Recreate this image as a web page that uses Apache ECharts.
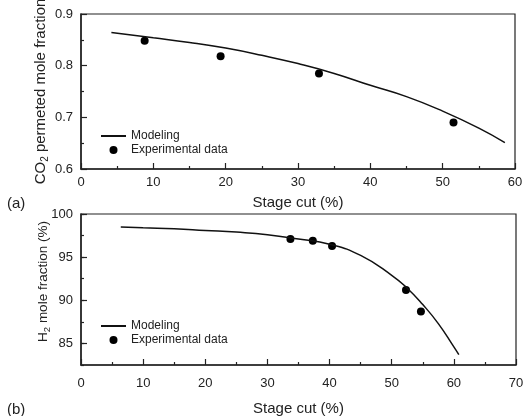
<!DOCTYPE html>
<html>
<head>
<meta charset="utf-8">
<script src="https://cdn.jsdelivr.net/npm/echarts@6/dist/echarts.min.js"></script>
<style>html,body{margin:0;padding:0;background:#fff;}#c{width:527px;height:416px;}</style>
</head>
<body>
<div id="c"></div>
<script>
// Panel (a): CO2 permeated mole fraction vs stage cut
var modelA_x = [4.2, 10, 15, 20, 25, 30, 35, 40, 45, 50, 55, 58.6];
var modelA_y = [0.864, 0.854, 0.845, 0.834, 0.820, 0.804, 0.785, 0.762, 0.740, 0.712, 0.679, 0.651];
var expA_x = [8.8, 19.3, 32.9, 51.5];
var expA_y = [0.848, 0.818, 0.785, 0.690];
// Panel (b): H2 mole fraction vs stage cut
var modelB_x = [6.4, 10, 15, 20, 25, 30, 35, 40, 45, 50, 52.5, 55, 57.5, 60, 60.8];
var modelB_y = [98.5, 98.4, 98.3, 98.1, 97.9, 97.6, 97.1, 96.5, 95.2, 92.9, 91.4, 89.5, 87.3, 84.6, 83.7];
var expB_x = [33.7, 37.3, 40.4, 52.3, 54.7];
var expB_y = [97.1, 96.9, 96.3, 91.2, 88.7];
var seriesNames = ['Modeling', 'Experimental data'];

function pairs(xs, ys) { return xs.map(function (x, i) { return [x, ys[i]]; }); }

var FONT = 'Liberation Sans, Arial, sans-serif';
var AX = '#222';
var labelStyle = { color: AX, fontSize: 13, fontFamily: FONT };

function xAxisOf(gi, max, margin, gap) {
  return {
    type: 'value', gridIndex: gi, min: 0, max: max, interval: 10,
    name: 'Stage cut (%)', nameLocation: 'middle', nameGap: gap, nameMoveOverlap: false,
    nameTextStyle: { color: AX, fontSize: 15, fontFamily: FONT },
    axisLine: { show: true, onZero: false, lineStyle: { color: AX, width: 1.5 } },
    axisTick: { show: true, inside: true, length: 6, lineStyle: { color: AX, width: 1.2 } },
    minorTick: { show: true, splitNumber: 2, length: 3, lineStyle: { color: AX, width: 1.2 } },
    splitLine: { show: false },
    axisLabel: Object.assign({ margin: margin }, labelStyle)
  };
}

function legendOf(top) {
  return {
    orient: 'vertical', left: 100, top: top, padding: 0, itemWidth: 25, itemHeight: 8, itemGap: 2,
    data: [
      { name: seriesNames[0], itemStyle: { opacity: 0 } },
      { name: seriesNames[1] }
    ],
    textStyle: { color: AX, fontSize: 12, fontFamily: FONT }, selectedMode: false
  };
}

var option = {
  animation: false,
  backgroundColor: '#fff',
  title: [
    { text: '(a)', left: 2, top: 191, textStyle: { color: AX, fontSize: 15, fontWeight: 'normal', fontFamily: FONT } },
    { text: '(b)', left: 2, top: 397, textStyle: { color: AX, fontSize: 15, fontWeight: 'normal', fontFamily: FONT } }
  ],
  grid: [
    { left: 81, right: 12, top: 14, height: 155, containLabel: false, outerBoundsMode: 'none', show: true, borderColor: AX, borderWidth: 1.2, backgroundColor: 'transparent' },
    { left: 81, right: 11, top: 214, height: 151, containLabel: false, outerBoundsMode: 'none', show: true, borderColor: AX, borderWidth: 1.2, backgroundColor: 'transparent' }
  ],
  legend: [legendOf(130), legendOf(320)],
  xAxis: [xAxisOf(0, 60, 7, 26), xAxisOf(1, 70, 12, 36)],
  yAxis: [
    {
      type: 'value', gridIndex: 0, min: 0.6, max: 0.9, interval: 0.1,
      name: '{a|CO}{s|2}{a| permeted mole fraction}', nameLocation: 'middle', nameGap: 31, nameMoveOverlap: false,
      nameTextStyle: { rich: { a: { color: AX, fontSize: 15, fontFamily: FONT }, s: { color: AX, fontSize: 10, fontFamily: FONT, padding: [9, 0, 0, 0] } } },
      axisLine: { show: true, onZero: false, lineStyle: { color: AX, width: 1.5 } },
      axisTick: { show: true, inside: true, length: 6, lineStyle: { color: AX, width: 1.2 } },
      minorTick: { show: true, splitNumber: 2, length: 3, lineStyle: { color: AX, width: 1.2 } },
      splitLine: { show: false },
      axisLabel: Object.assign({ margin: 8, formatter: function (v) { return v.toFixed(1); } }, labelStyle)
    },
    {
      type: 'value', gridIndex: 1, min: 82.5, max: 100, splitNumber: 4,
      name: '{a|H}{s|2}{a| mole fraction (%)}', nameLocation: 'middle', nameGap: 29, nameMoveOverlap: false,
      nameTextStyle: { padding: [0, 0, 0, 16], rich: { a: { color: AX, fontSize: 13.5, fontFamily: FONT }, s: { color: AX, fontSize: 9.5, fontFamily: FONT, padding: [8, 0, 0, 0] } } },
      axisLine: { show: true, onZero: false, lineStyle: { color: AX, width: 1.5 } },
      axisTick: { show: true, inside: true, length: 6, lineStyle: { color: AX, width: 1.2 } },
      minorTick: { show: false },
      splitLine: { show: false },
      axisLabel: Object.assign({ margin: 8, showMinLabel: false }, labelStyle)
    },
    {
      type: 'value', gridIndex: 1, min: 82.5, max: 100, interval: 2.5, position: 'left',
      axisLine: { show: false },
      axisTick: { show: true, inside: true, length: 3, lineStyle: { color: AX, width: 1.2 } },
      splitLine: { show: false },
      axisLabel: { show: false }
    }
  ],
  series: [
    { name: 'Modeling', type: 'line', xAxisIndex: 0, yAxisIndex: 0, data: pairs(modelA_x, modelA_y),
      smooth: true, symbol: 'none', lineStyle: { color: '#111', width: 1.5 }, itemStyle: { color: '#111' } },
    { name: 'Experimental data', type: 'scatter', xAxisIndex: 0, yAxisIndex: 0, data: pairs(expA_x, expA_y),
      symbol: 'circle', symbolSize: 8, itemStyle: { color: '#000', opacity: 1 } },
    { name: 'Modeling', type: 'line', xAxisIndex: 1, yAxisIndex: 1, data: pairs(modelB_x, modelB_y),
      smooth: true, symbol: 'none', lineStyle: { color: '#111', width: 1.5 }, itemStyle: { color: '#111' } },
    { name: 'Experimental data', type: 'scatter', xAxisIndex: 1, yAxisIndex: 1, data: pairs(expB_x, expB_y),
      symbol: 'circle', symbolSize: 8, itemStyle: { color: '#000', opacity: 1 } }
  ]
};
var chart = echarts.init(document.getElementById('c'), null, { renderer: 'canvas' });
chart.setOption(option);
</script>
</body>
</html>
